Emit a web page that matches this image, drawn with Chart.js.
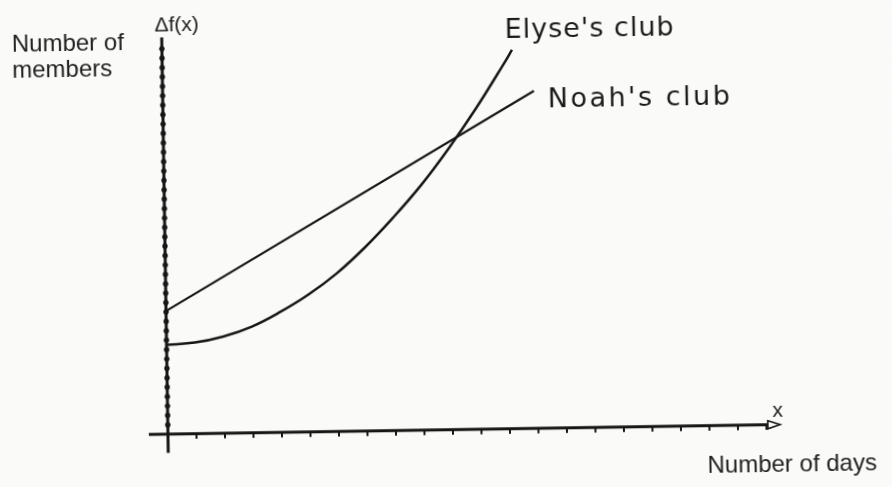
<!DOCTYPE html>
<html>
<head>
<meta charset="utf-8">
<script src="https://cdn.jsdelivr.net/npm/chart.js@4"></script>
<style>
  html, body { margin: 0; padding: 0; background: #fafaf9; overflow: hidden; }
  #graf { display: block; transform: rotate(-0.9deg); }
</style>
</head>
<body>
<canvas id="graf" width="892" height="487"></canvas>
<script>
// dias (x) e membros (y)
const diasElyse = [0, 1, 2, 3, 4, 5, 6, 7, 8, 9, 10, 11, 12, 12.28]
const membrosElyse = [9.5, 9.7, 10.3, 11.3, 12.8, 14.6, 16.8, 19.5, 22.6, 26.0, 29.9, 34.2, 38.9, 40.3]
const diasNoah = [0, 13.03]
const membrosNoah = [13.1, 35.9]

const marcasX = [1, 2, 3, 4, 5, 6, 7, 8, 9, 10, 11, 12, 13, 14, 15, 16, 17, 18, 19, 20, 21]
const marcasY = []
for (let i = 1; i <= 41; i++) marcasY.push(i)

const tinta = '#161616'
const papel = '#fafaf9'

const pontos = (xs, ys) => xs.map((x, i) => ({ x: x, y: ys[i] }))

const eixos = {
  id: 'eixos',
  beforeDraw(chart) {
    const c = chart.ctx
    c.save()
    c.fillStyle = papel
    c.fillRect(0, 0, chart.width, chart.height)
    c.restore()
  },
  beforeDatasetsDraw(chart) {
    const c = chart.ctx
    const sx = chart.scales.x
    const sy = chart.scales.y
    const x0 = sx.getPixelForValue(0)
    const y0 = sy.getPixelForValue(0)
    c.save()
    c.strokeStyle = tinta
    c.fillStyle = tinta
    c.lineCap = 'butt'

    // eixo x
    const xFim = sx.getPixelForValue(21.05)
    c.lineWidth = 3
    c.beginPath()
    c.moveTo(sx.getPixelForValue(-0.67), y0)
    c.lineTo(xFim, y0)
    c.stroke()
    // seta aberta
    c.lineWidth = 1.6
    c.beginPath()
    c.moveTo(xFim, y0 - 4)
    c.lineTo(sx.getPixelForValue(21.48), y0)
    c.lineTo(xFim, y0 + 4)
    c.closePath()
    c.fillStyle = papel
    c.fill()
    c.stroke()
    c.fillStyle = tinta
    // marcas x
    c.lineWidth = 2
    marcasX.forEach(v => {
      const px = sx.getPixelForValue(v)
      c.beginPath()
      c.moveTo(px, y0)
      c.lineTo(px, y0 + 5)
      c.stroke()
    })

    // eixo y
    c.lineWidth = 3
    c.beginPath()
    c.moveTo(x0, sy.getPixelForValue(-2))
    c.lineTo(x0, sy.getPixelForValue(42.2))
    c.stroke()
    marcasY.forEach(v => {
      c.beginPath()
      c.arc(x0, sy.getPixelForValue(v), 2.7, 0, Math.PI * 2)
      c.fill()
    })
    c.restore()
  },
  afterDraw(chart) {
    const c = chart.ctx
    c.save()
    c.fillStyle = '#222'
    c.textBaseline = 'alphabetic'
    c.font = '24px "Liberation Sans", Arial, sans-serif'
    c.fillText('Number of', 15, 45)
    c.fillText('members', 15, 71)
    c.fillText('Number of days', 704, 477)
    c.font = '21px "Liberation Sans", Arial, sans-serif'
    c.fillText('\u0394f(x)', 158, 27)
    c.textAlign = 'center'
    c.textBaseline = 'middle'
    c.fillText('x', 775, 416)
    c.textAlign = 'left'
    c.textBaseline = 'alphabetic'
    c.fillStyle = '#1a1a1a'
    c.font = '27px "DejaVu Sans", sans-serif'
    c.letterSpacing = '1px'
    c.fillText("Elyse's club", 508, 39)
    c.letterSpacing = '2.5px'
    c.fillText("Noah's club", 550, 109)
    c.restore()
  }
}

const grafico = new Chart(document.getElementById('graf'), {
  type: 'scatter',
  data: {
    datasets: [
      {
        label: "Elyse's club",
        data: pontos(diasElyse, membrosElyse),
        showLine: true,
        borderColor: tinta,
        borderWidth: 2.5,
        pointRadius: 0,
        tension: 0.4
      },
      {
        label: "Noah's club",
        data: pontos(diasNoah, membrosNoah),
        showLine: true,
        borderColor: tinta,
        borderWidth: 2.2,
        pointRadius: 0
      }
    ]
  },
  options: {
    responsive: false,
    animation: false,
    devicePixelRatio: 1,
    layout: { padding: 0 },
    plugins: { legend: { display: false }, tooltip: { enabled: false } },
    scales: {
      x: { type: 'linear', display: false, min: -5.789, max: 25.509 },
      y: { type: 'linear', display: false, min: -6.085, max: 45.72 }
    }
  },
  plugins: [eixos]
})
</script>
</body>
</html>
